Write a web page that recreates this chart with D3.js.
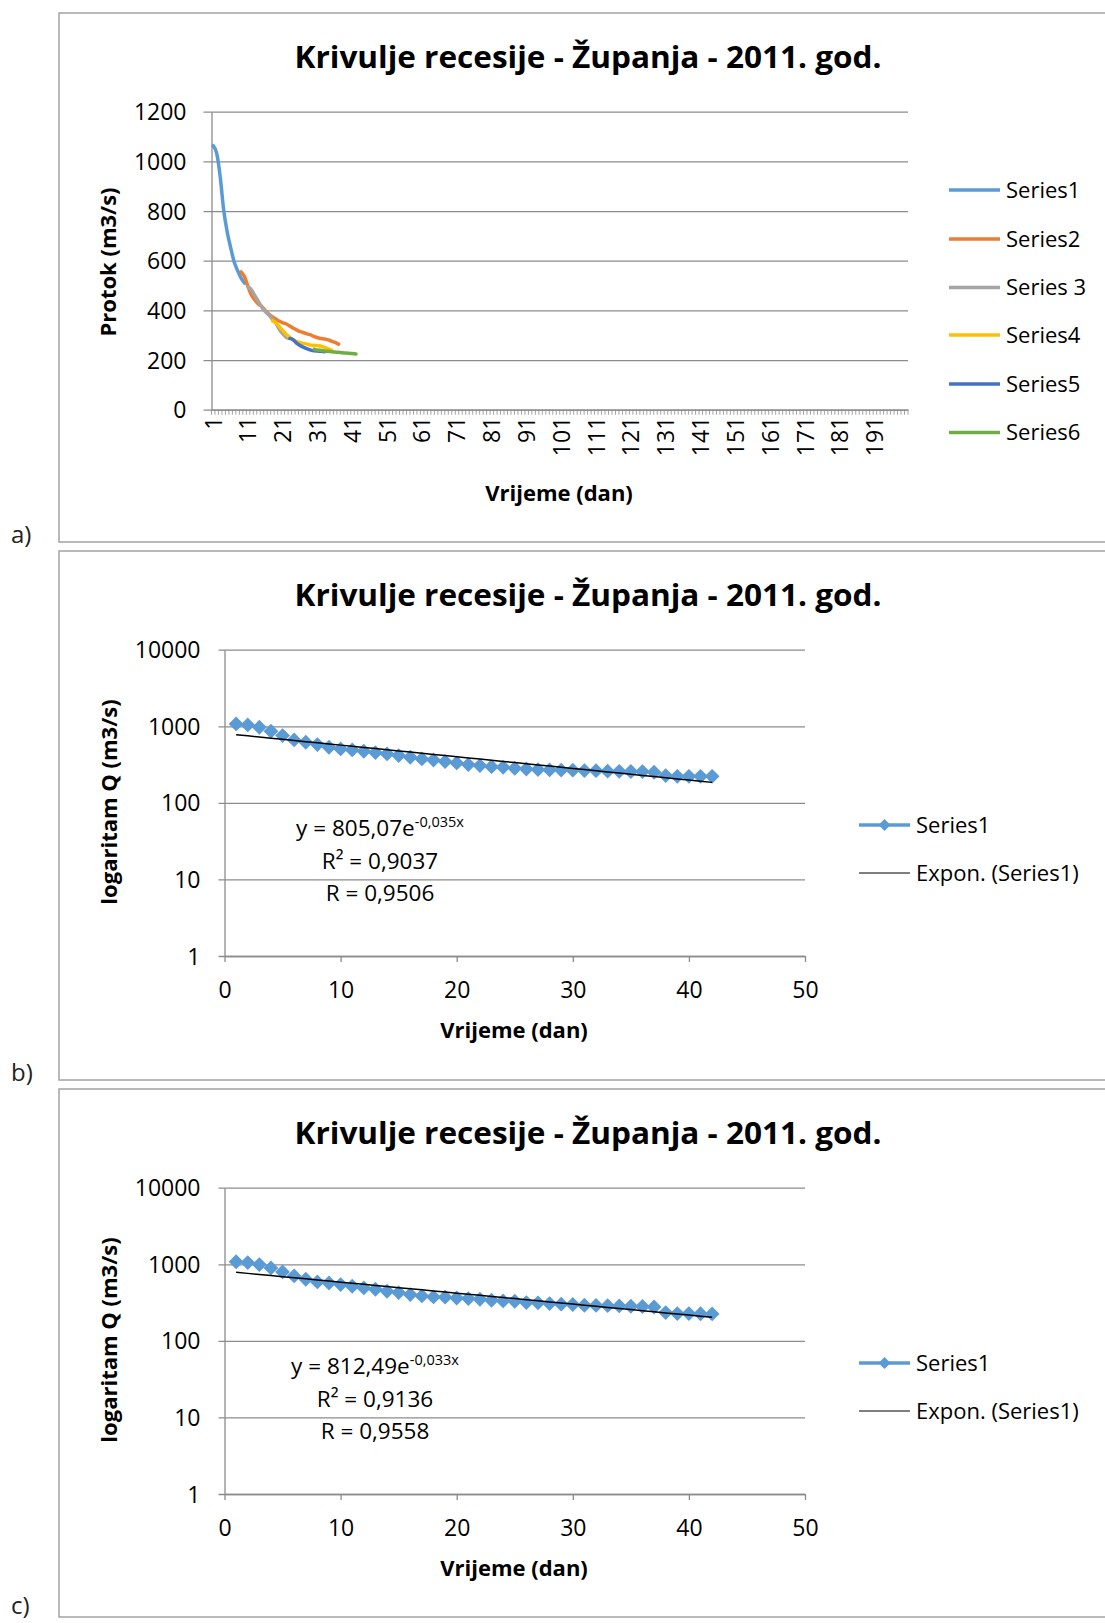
<!DOCTYPE html>
<html><head><meta charset="utf-8">
<script src="https://cdn.jsdelivr.net/npm/d3@7"></script>
<style>body{margin:0;background:#fff} svg{display:block}</style>
</head><body>
<svg id="chart" width="1105" height="1623"></svg>
<script>
// ---------------- DATA ----------------
const titleText = "Krivulje recesije - Županja - 2011. god.";
const panelLabels = ["a)", "b)", "c)"];

// Chart a: category axis (days 1..200), six recession segments
const categoriesA = d3.range(1, 201);
const xLabelsA = [1, 11, 21, 31, 41, 51, 61, 71, 81, 91, 101, 111, 121, 131, 141, 151, 161, 171, 181, 191];
const yTicksA = [0, 200, 400, 600, 800, 1000, 1200];
const seriesNames = ["Series1", "Series2", "Series 3", "Series4", "Series5", "Series6"];
const seriesStart = [1, 9, 11, 18, 23, 30];
const series1 = [1063, 1032, 938, 804, 716, 653, 596, 560, 530, 510];
const series2 = [555, 535, 495, 461, 441, 425, 415, 398, 385, 374, 365, 356, 350, 345, 337, 328, 321, 314, 310, 305, 301, 294, 290, 287, 285, 281, 276, 271, 264];
const series3 = [495, 482, 458, 435, 412, 394, 381, 364, 348, 323, 305, 291, 287];
const series4 = [358, 350, 334, 318, 303, 291, 281, 274, 270, 267, 264, 260, 259, 258, 256, 251, 245, 240];
const series5 = [287, 281, 267, 258, 251, 245, 240, 237, 236, 235, 233];
const series6 = [243, 240, 239, 236, 235, 233, 232, 231, 229, 228, 227, 226, 224];
const seriesColors = ["#5b9bd5", "#ed7d31", "#a5a5a5", "#ffc000", "#4472c4", "#70ad47"];

// Charts b and c: log axis, combined recession curve (days 1..42)
const xTicksL = [0, 10, 20, 30, 40, 50];
const yTicksL = [1, 10, 100, 1000, 10000];
const daysL = d3.range(1, 43);
const valuesB = [1073, 1041, 970, 861, 756, 664, 619, 577, 532, 506,
  491, 472, 453, 435, 414, 394, 375, 363, 346, 332,
  316, 307, 297, 292, 283, 277, 272, 269, 268, 267,
  264, 263, 259, 258, 257, 256, 251, 227, 222, 222, 222, 222];
const valuesC = [1080, 1051, 990, 896, 794, 704, 637, 588, 570, 543,
  516, 491, 472, 444, 427, 402, 386, 375, 372, 363,
  356, 349, 339, 332, 329, 316, 314, 307, 301, 298,
  292, 290, 288, 286, 283, 281, 277, 234, 227, 227, 226, 225];
// Trendline coefficients shown on the charts: y = a * e^(b x)
const fitB = [805.07, -0.035];
const fitC = [812.49, -0.033];
const eqB = ["805,07", "-0,035x", "0,9037", "0,9506"];
const eqC = ["812,49", "-0,033x", "0,9136", "0,9558"];

// ---------------- DRAW ----------------
const FONT = "'Open Sans', 'Noto Sans', sans-serif";
const GRID = "#8c8c8c";
const FRAME = "#a3a3a3";
const svg = d3.select("#chart").style("font-family", FONT);

const panelTops = [13, 551, 1089];
panelTops.forEach((t, i) => {
  svg.append("rect").attr("x", 59).attr("y", t).attr("width", 1100).attr("height", i === 2 ? 528 : 529)
    .attr("fill", "none").attr("stroke", FRAME).attr("stroke-width", 1.5);
});
const labelY = [535, 1073, 1606];
panelLabels.forEach((l, i) => {
  svg.append("text").attr("x", 11).attr("y", labelY[i]).attr("dy", "0.35em")
    .attr("font-size", 24).attr("fill", "#222").text(l);
});

function title(top) {
  svg.append("text").attr("x", 588).attr("y", top + 44).attr("dy", "0.35em")
    .attr("text-anchor", "middle").attr("font-weight", "bold").attr("font-size", 31)
    .attr("textLength", 587).attr("lengthAdjust", "spacingAndGlyphs")
    .attr("fill", "#000").text(titleText);
}

// ---- Chart a ----
(function () {
  const top = 13;
  title(top);
  const x0 = 211.5, x1 = 908, y0 = 409.7, y1 = 111.7;
  const xA = d3.scaleBand().domain(categoriesA).range([x0, x1]).paddingInner(0).paddingOuter(0);
  const yA = d3.scaleLinear().domain([0, 1200]).range([y0, y1]);
  const g = svg.append("g");

  // y axis with gridlines
  const yAxis = g.append("g").attr("transform", `translate(${x0},0)`)
    .call(d3.axisLeft(yA).tickValues(yTicksA).tickFormat(d3.format("d")).tickSizeInner(-(x1 - x0)).tickSizeOuter(0).tickPadding(25));
  yAxis.select(".domain").attr("stroke", GRID).attr("stroke-width", 1.3);
  yAxis.selectAll(".tick line").attr("x1", -8).attr("stroke", GRID).attr("stroke-width", 1.3);
  yAxis.selectAll(".tick text").attr("font-size", 23).attr("font-family", FONT).attr("fill", "#000").attr("dy", "0.35em");

  // x axis boundary tick marks
  const bounds = categoriesA.map(d => xA(d)).concat([x1]);
  g.append("g").selectAll("line").data(bounds).join("line")
    .attr("x1", d => d).attr("x2", d => d).attr("y1", y0).attr("y2", y0 + 5)
    .attr("stroke", GRID).attr("stroke-width", 0.8);
  const xAxis = g.append("g").attr("transform", `translate(0,${y0})`)
    .call(d3.axisBottom(xA).tickValues(xLabelsA).tickSize(0).tickSizeOuter(0));
  xAxis.select(".domain").attr("stroke", GRID).attr("stroke-width", 1.3);
  xAxis.selectAll(".tick text").attr("font-size", 23).attr("font-family", FONT).attr("fill", "#000")
    .attr("transform", "rotate(-90)").attr("text-anchor", "end").attr("x", -7).attr("y", 0).attr("dy", "0.36em");

  // lines
  const all = [series1, series2, series3, series4, series5, series6];
  const line = d3.line().x(d => xA(d.day) + xA.bandwidth() / 2).y(d => yA(d.v)).curve(d3.curveMonotoneX);
  all.forEach((s, i) => {
    const pts = s.map((v, k) => ({ day: seriesStart[i] + k, v }));
    g.append("path").attr("d", line(pts)).attr("fill", "none").attr("stroke", seriesColors[i])
      .attr("stroke-width", 3.5).attr("stroke-linecap", "round").attr("stroke-linejoin", "round");
  });

  // axis titles
  g.append("text").attr("x", 559).attr("y", top + 480.5).attr("dy", "0.35em").attr("text-anchor", "middle")
    .attr("font-weight", "bold").attr("font-size", 22).text("Vrijeme (dan)");
  g.append("text").attr("transform", `translate(108.6,${top + 249}) rotate(-90)`).attr("dy", "0.35em")
    .attr("text-anchor", "middle").attr("font-weight", "bold").attr("font-size", 22).text("Protok (m3/s)");

  // legend
  const legY = [177, 226, 274.6, 322, 371, 419.5];
  seriesNames.forEach((n, i) => {
    g.append("line").attr("x1", 949).attr("x2", 1000).attr("y1", top + legY[i]).attr("y2", top + legY[i])
      .attr("stroke", seriesColors[i]).attr("stroke-width", 3.5);
    g.append("text").attr("x", 1006).attr("y", top + legY[i]).attr("dy", "0.35em").attr("font-size", 22).text(n);
  });
})();

// ---- Charts b and c ----
function logChart(top, values, fit, eq, eqCx) {
  title(top);
  const x0 = 224.5, x1 = 805, y0 = top + 405, y1 = top + 98.7;
  const xL = d3.scaleLinear().domain([0, 50]).range([x0, x1]);
  const yL = d3.scaleLog().domain([1, 10000]).range([y0, y1]);
  const g = svg.append("g");

  const yAxis = g.append("g").attr("transform", `translate(${x0},0)`)
    .call(d3.axisLeft(yL).tickValues(yTicksL).tickFormat(d3.format("d")).tickSizeInner(-(x1 - x0)).tickSizeOuter(0).tickPadding(24));
  yAxis.select(".domain").attr("stroke", GRID).attr("stroke-width", 1.3);
  yAxis.selectAll(".tick line").attr("x1", -6).attr("stroke", GRID).attr("stroke-width", 1.3);
  yAxis.selectAll(".tick text").attr("font-size", 23).attr("font-family", FONT).attr("fill", "#000").attr("dy", "0.35em");

  const xAxis = g.append("g").attr("transform", `translate(0,${y0})`)
    .call(d3.axisBottom(xL).tickValues(xTicksL).tickSize(6).tickSizeOuter(0));
  xAxis.select(".domain").attr("stroke", GRID).attr("stroke-width", 1.3);
  xAxis.selectAll(".tick line").attr("stroke", GRID).attr("stroke-width", 1.3);
  xAxis.selectAll(".tick text").attr("font-size", 23).attr("font-family", FONT).attr("fill", "#000")
    .attr("y", 34).attr("dy", "0.35em");

  // markers
  const sym = d3.symbol().type(d3.symbolSquare).size(110);
  g.append("g").selectAll("path").data(daysL).join("path")
    .attr("d", sym).attr("fill", "#5b9bd5")
    .attr("transform", (d, i) => `translate(${xL(d)},${yL(values[i])}) rotate(45)`);

  // trendline
  const trend = daysL.map(d => ({ x: d, y: fit[0] * Math.exp(fit[1] * d) }));
  g.append("path").attr("d", d3.line().x(d => xL(d.x)).y(d => yL(d.y))(trend))
    .attr("fill", "none").attr("stroke", "#000").attr("stroke-width", 1.5);

  // equation
  const t1 = g.append("text").attr("x", eqCx).attr("y", top + 277).attr("dy", "0.35em").attr("text-anchor", "middle").attr("font-size", 22.5);
  t1.append("tspan").text("y = " + eq[0] + "e");
  t1.append("tspan").attr("dy", -9).attr("font-size", 14.5).text(eq[1]);
  g.append("text").attr("x", eqCx).attr("y", top + 310).attr("dy", "0.35em").attr("text-anchor", "middle").attr("font-size", 22.5).text("R² = " + eq[2]);
  g.append("text").attr("x", eqCx).attr("y", top + 342).attr("dy", "0.35em").attr("text-anchor", "middle").attr("font-size", 22.5).text("R = " + eq[3]);

  // axis titles
  g.append("text").attr("x", 514).attr("y", top + 479).attr("dy", "0.35em").attr("text-anchor", "middle")
    .attr("font-weight", "bold").attr("font-size", 22).text("Vrijeme (dan)");
  g.append("text").attr("transform", `translate(109,${top + 251}) rotate(-90)`).attr("dy", "0.35em")
    .attr("text-anchor", "middle").attr("font-weight", "bold").attr("font-size", 22).text("logaritam Q (m3/s)");

  // legend
  const ly1 = top + 274, ly2 = top + 322;
  g.append("line").attr("x1", 859).attr("x2", 910).attr("y1", ly1).attr("y2", ly1).attr("stroke", "#5b9bd5").attr("stroke-width", 3.5);
  g.append("path").attr("d", d3.symbol().type(d3.symbolSquare).size(70)).attr("fill", "#5b9bd5")
    .attr("transform", `translate(884.5,${ly1}) rotate(45)`);
  g.append("text").attr("x", 916).attr("y", ly1).attr("dy", "0.35em").attr("font-size", 22).text("Series1");
  g.append("line").attr("x1", 859).attr("x2", 910).attr("y1", ly2).attr("y2", ly2).attr("stroke", "#000").attr("stroke-width", 1.2);
  g.append("text").attr("x", 916).attr("y", ly2).attr("dy", "0.35em").attr("font-size", 22).text("Expon. (Series1)");
}
logChart(551, valuesB, fitB, eqB, 380);
logChart(1089, valuesC, fitC, eqC, 375);
</script>
</body></html>
